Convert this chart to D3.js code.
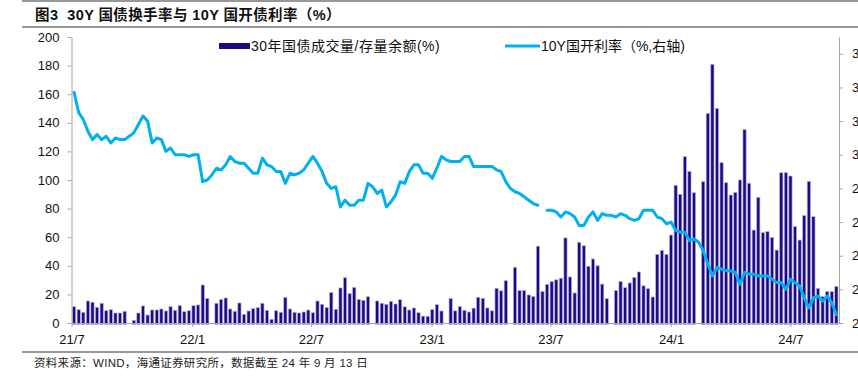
<!DOCTYPE html>
<html><head><meta charset="utf-8">
<script src="https://cdn.jsdelivr.net/npm/d3@7"></script>
<style>
html,body{margin:0;padding:0;background:#fff;overflow:hidden}
svg{display:block}
text{font-family:"Liberation Sans",Arial,"Noto Sans CJK SC",sans-serif;white-space:pre}
</style></head><body>
<script>
// ---- data ----
const titleText = "图3  30Y 国债换手率与 10Y 国开债利率（%）";
const sourceText = "资料来源：WIND，海通证券研究所，数据截至 24 年 9 月 13 日";
const barName = "30年国债成交量/存量余额(%)";
const lineName = "10Y国开利率（%,右轴)";
const firstWeek = new Date(2021, 6, 5);
const lastWeek = new Date(2024, 8, 9);
const xDomain = [new Date(2021, 6, 1), new Date(2024, 8, 13)];
const xTickDates = [new Date(2021,6,1), new Date(2022,0,1), new Date(2022,6,1), new Date(2023,0,1), new Date(2023,6,1), new Date(2024,0,1), new Date(2024,6,1)];
const leftTicks = [0,20,40,60,80,100,120,140,160,180,200];
const rightTicks = [2.1,2.3,2.5,2.7,2.9,3.1,3.3,3.5,3.7];
// 30Y turnover (%), weekly
const turnover = [
11.4,9.3,7.5,15.4,14.5,11,13.8,8.6,9.3,7,7,8.2,null,1.9,7,11.9,5.6,9.1,9.1,9.8,
8.4,11.4,8.9,12.1,7.9,8.6,12.1,12.6,26.6,17.2,null,13.8,16.5,17.5,9.8,8.2,14,6.1,8.4,10,
10.7,13.8,8.9,2.6,8.6,7.5,17.9,9.8,7.5,7,7.7,9.1,7.2,15.4,13.1,10.7,21.4,9.6,24.5,31.7,
20.5,24.9,16.5,15.9,18.4,null,15.4,13.8,13.1,15.2,13.3,16.3,11.3,9.1,10.5,7.2,4.8,4.7,9.4,12.8,
8.4,null,17.1,8.5,11.5,8.9,7.7,10.4,18,17.3,10.5,8.5,24.3,22.5,29.6,null,39,22.7,22.7,19.6,
18.6,53.7,22.1,27,28.9,30.2,31.3,59.5,32.2,21,56.4,54,39.7,44.8,40,27.2,17,null,22.7,29,
24.7,28,31.9,35.7,26,24,18.2,48,50.8,48,61.5,96.3,90,116.3,106,91.1,null,98.8,146.6,180.9,
150.1,112.1,98.1,89.5,91.4,100,135.2,97.7,65,87.9,63.2,63.9,59.7,51,105.1,105.1,102.8,67.4,58,75.1,
99.1,74.4,24.2,18.4,21.9,21.9,25.6];
// 10Y CDB yield (%), weekly
const yield10 = [
3.47,3.35,3.31,3.24,3.19,3.22,3.19,3.21,3.17,3.20,3.19,3.19,3.21,3.23,3.28,3.33,3.30,3.17,3.20,3.19,
3.12,3.14,3.10,3.10,3.10,3.09,3.10,3.10,2.94,2.95,2.98,3.02,3.01,3.04,3.09,3.06,3.05,3.05,3.02,2.99,
2.99,3.08,3.04,3.03,3.00,3.00,2.93,2.99,2.98,2.99,3.01,3.05,3.09,3.05,3.00,2.93,2.90,2.91,2.79,2.83,
2.80,2.80,2.83,2.83,2.93,2.91,2.87,2.89,2.79,2.82,2.86,2.94,2.93,3.00,3.04,3.04,2.99,2.99,2.96,3.02,
3.09,3.07,3.06,3.06,3.06,3.09,3.09,3.03,3.03,3.03,3.03,3.03,3.01,3.00,2.94,2.90,2.88,2.87,2.85,2.83,
2.81,2.80,null,2.77,2.77,2.76,2.73,2.76,2.75,2.73,2.68,2.68,2.73,2.76,2.71,2.75,2.74,2.74,2.73,2.75,
2.74,2.72,2.71,2.72,2.77,2.77,2.77,2.73,2.72,2.69,2.70,2.65,2.64,2.64,2.59,2.60,2.58,2.53,2.45,2.38,
2.43,2.42,2.41,2.41,2.40,2.33,2.40,2.39,2.39,2.38,2.38,2.38,2.36,2.34,2.34,2.30,2.36,2.34,2.32,2.25,
2.19,2.25,2.26,2.23,2.26,2.22,2.15];

const weeks = d3.timeMonday.range(firstWeek, d3.timeDay.offset(lastWeek, 1));
const barData = weeks.map((d, i) => ({date: d, v: turnover[i]}));
const lineData = weeks.map((d, i) => ({date: d, v: yield10[i]}));

// ---- drawing ----
const W = 858, H = 376;
const svg = d3.select("body").append("svg").attr("width", W).attr("height", H);
const plot = {left: 71.5, right: 839, top: 37, bottom: 323};
const BAR = "#1c0a80", LINE = "#00b0f0", AXIS = "#a6a6a6";

// frame lines
svg.append("line").attr("x1", 22).attr("x2", W).attr("y1", 1).attr("y2", 1).attr("stroke", "#333").attr("stroke-width", 1.2);
svg.append("line").attr("x1", 22).attr("x2", W).attr("y1", 27).attr("y2", 27).attr("stroke", "#333").attr("stroke-width", 1.2);
svg.append("line").attr("x1", 22).attr("x2", W).attr("y1", 352).attr("y2", 352).attr("stroke", "#333").attr("stroke-width", 1.2);

svg.append("text").attr("x", 35).attr("y", 20).attr("font-size", 14.5).attr("font-weight", "bold")
  .attr("fill", "#111").attr("letter-spacing", 0.4).text(titleText);
svg.append("text").attr("x", 34).attr("y", 367).attr("font-size", 11.5).attr("fill", "#222")
  .attr("letter-spacing", 0.3).text(sourceText);

const x = d3.scaleTime().domain(xDomain).range([plot.left, plot.right]);
const yL = d3.scaleLinear().domain([0, 200]).range([plot.bottom, plot.top]);
const yR = d3.scaleLinear().domain([2.1, 3.8]).range([plot.bottom, plot.top]);

// bars
const bw = 3.2;
svg.append("g").selectAll("rect").data(barData.filter(d => d.v != null)).join("rect")
  .attr("x", d => x(d.date) - bw / 2)
  .attr("y", d => yL(d.v))
  .attr("width", bw)
  .attr("height", d => yL(0) - yL(d.v) + 1.5)
  .attr("fill", BAR)
  .attr("stroke", "#b4aee0").attr("stroke-width", 0.7);

// axes
function styleAxis(g) {
  g.selectAll("path").attr("stroke", AXIS);
  g.selectAll("line").attr("stroke", AXIS);
  g.selectAll("text").attr("fill", "#111").attr("font-size", 13)
    .style("font-family", '"Liberation Sans",Arial,sans-serif');
}
svg.append("g").attr("transform", `translate(0,${plot.bottom})`)
  .call(d3.axisBottom(x).tickValues(xTickDates).tickFormat(d3.timeFormat("%y/%-m")).tickSize(4).tickSizeOuter(0).tickPadding(8))
  .call(styleAxis);
svg.append("g").attr("transform", `translate(${plot.left},0)`)
  .call(d3.axisLeft(yL).tickValues(leftTicks).tickSize(4).tickSizeOuter(0).tickPadding(8))
  .call(styleAxis);
svg.append("g").attr("transform", `translate(${plot.right},0)`)
  .call(d3.axisRight(yR).tickValues(rightTicks).tickFormat(d3.format(".1f")).tickSize(4).tickSizeOuter(0).tickPadding(9))
  .call(styleAxis);

// line
svg.append("path").datum(lineData)
  .attr("fill", "none").attr("stroke", LINE).attr("stroke-width", 3)
  .attr("stroke-linejoin", "round").attr("stroke-linecap", "round")
  .attr("d", d3.line().defined(d => d.v != null).x(d => x(d.date)).y(d => yR(d.v)));

// legend
const lg = svg.append("g");
lg.append("rect").attr("x", 219).attr("y", 43).attr("width", 31).attr("height", 6).attr("fill", BAR);
lg.append("text").attr("x", 251).attr("y", 51).attr("font-size", 14).attr("fill", "#111")
  .attr("letter-spacing", 0.5).text(barName);
lg.append("line").attr("x1", 505).attr("x2", 540).attr("y1", 46).attr("y2", 46).attr("stroke", LINE).attr("stroke-width", 3);
lg.append("text").attr("x", 541).attr("y", 51).attr("font-size", 14).attr("fill", "#111")
  .text(lineName);
</script>
</body></html>
